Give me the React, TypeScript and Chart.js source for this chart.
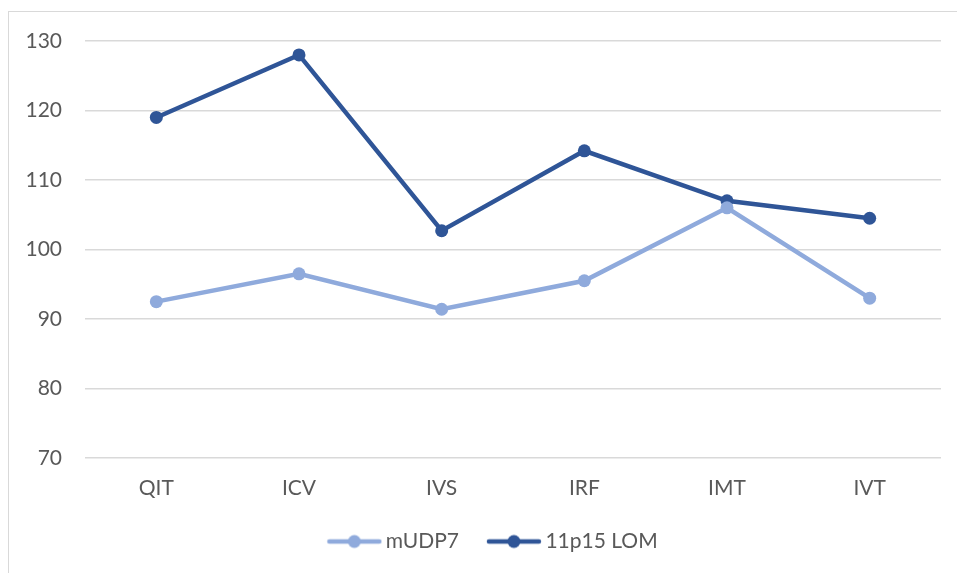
import React, { useEffect, useRef } from "react";
import { Chart, registerables } from "chart.js";

Chart.register(...registerables);

const categories = ["QIT", "ICV", "IVS", "IRF", "IMT", "IVT"];
const mUDP7 = [92.5, 96.5, 91.4, 95.5, 106, 93];
const lom11p15 = [119, 128, 102.7, 114.2, 107, 104.5];
const yMin = 70;
const yMax = 130;
const yStep = 10;

const LIGHT = "#8faadc";
const DARK = "#2f5597";
const FONT = "Lato";
const FS = 21;

function legendIcon(color: string): HTMLCanvasElement {
  const c = document.createElement("canvas");
  c.width = 80;
  c.height = 16;
  const ctx = c.getContext("2d")!;
  ctx.strokeStyle = color;
  ctx.lineWidth = 4.5;
  ctx.lineCap = "round";
  ctx.beginPath();
  ctx.moveTo(27, 8);
  ctx.lineTo(77, 8);
  ctx.stroke();
  ctx.fillStyle = color;
  ctx.beginPath();
  ctx.arc(52, 8, 6.5, 0, Math.PI * 2);
  ctx.fill();
  return c;
}

export default function App() {
  const ref = useRef<HTMLCanvasElement | null>(null);
  useEffect(() => {
    document.body.style.overflow = "hidden";
    const icons = [legendIcon(LIGHT), legendIcon(DARK)];
    const chart = new Chart(ref.current!, {
      type: "line",
      data: {
        labels: categories,
        datasets: [
          {
            label: "mUDP7",
            data: mUDP7,
            borderColor: LIGHT,
            backgroundColor: LIGHT,
            borderWidth: 4.5,
            pointRadius: 6.5,
            pointHoverRadius: 6.5,
            pointBorderWidth: 0,
            tension: 0,
          },
          {
            label: "11p15 LOM",
            data: lom11p15,
            borderColor: DARK,
            backgroundColor: DARK,
            borderWidth: 4.5,
            pointRadius: 6.5,
            pointHoverRadius: 6.5,
            pointBorderWidth: 0,
            tension: 0,
          },
        ],
      },
      options: {
        animation: false,
        responsive: false,
        layout: { padding: { left: 17, right: 16, top: 29, bottom: 11 } },
        plugins: {
          tooltip: { enabled: false },
          legend: {
            position: "bottom",
            labels: {
              usePointStyle: true,
              pointStyleWidth: 66,
              font: { family: FONT, size: FS },
              color: "#595959",
              padding: 10,
              generateLabels: (ch: any) =>
                ch.data.datasets.map((d: any, i: number) => ({
                  text: d.label,
                  fillStyle: d.borderColor,
                  strokeStyle: d.borderColor,
                  lineWidth: 0,
                  pointStyle: icons[i],
                  hidden: false,
                  datasetIndex: i,
                  fontColor: "#595959",
                })),
            },
          },
        },
        scales: {
          x: {
            offset: true,
            grid: { display: false, drawTicks: false },
            border: { display: false },
            ticks: {
              font: { family: FONT, size: FS },
              color: "#595959",
              padding: 18,
            },
            afterFit: (s: any) => {
              s.height = 63;
            },
          },
          y: {
            min: yMin,
            max: yMax,
            grid: {
              color: "#d9d9d9",
              lineWidth: 1.5,
              drawTicks: true,
              tickLength: 20,
              tickColor: "rgba(0,0,0,0)",
            },
            border: { display: false },
            ticks: {
              stepSize: yStep,
              font: { family: FONT, size: FS },
              color: "#595959",
              padding: 3,
            },
            afterFit: (s: any) => {
              s.width = 59;
            },
          },
        },
      },
    });
    return () => chart.destroy();
  }, []);
  return (
    <div
      style={{
        position: "absolute",
        left: 8,
        top: 11,
        width: 949,
        height: 562,
        borderLeft: "1px solid #d9d9d9",
        borderTop: "1px solid #d9d9d9",
        background: "#fff",
      }}
    >
      <canvas ref={ref} width={948} height={561} style={{ display: "block" }} />
    </div>
  );
}
